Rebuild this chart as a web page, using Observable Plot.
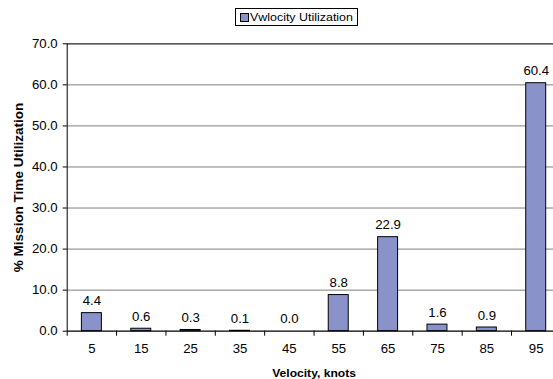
<!DOCTYPE html>
<html>
<head>
<meta charset="utf-8">
<script src="https://cdn.jsdelivr.net/npm/d3@7"></script>
<script src="https://cdn.jsdelivr.net/npm/@observablehq/plot@0.6"></script>
<style>
  html, body { margin: 0; padding: 0; background: #fff; }
  body { width: 553px; height: 379px; overflow: hidden; position: relative; font-family: "Liberation Sans", Arial, sans-serif; }
  #legend {
    position: absolute; left: 235px; top: 8px; width: 121px; height: 16px;
    border: 1px solid #000; background: #fff; box-sizing: content-box;
    font-size: 11px; line-height: 16px; white-space: nowrap; color: #000;
  }
  #legend .sw {
    position: absolute; left: 4px; top: 4px; width: 7px; height: 7px;
    border: 1px solid #000; background: #8a93c9;
  }
  #legend .lbl {
    position: absolute; left: 14px; top: 0; display: inline-block;
    transform: scaleX(1.13); transform-origin: left center;
  }
  #chart { position: absolute; left: 0; top: 0; }
</style>
</head>
<body>
<div id="chart"></div>
<div id="legend"><span class="sw"></span><span class="lbl">Vwlocity Utilization</span></div>
<script>
// Velocity bins (knots, bin centres) and share of mission time (%)
const velocities = [5, 15, 25, 35, 45, 55, 65, 75, 85, 95];
const utilization = [4.4, 0.6, 0.3, 0.1, 0.0, 8.8, 22.9, 1.6, 0.9, 60.4];
const binWidth = 10;
const yTicks = [0, 10, 20, 30, 40, 50, 60, 70];
const binEdges = [0, 10, 20, 30, 40, 50, 60, 70, 80, 90, 100];

const data = velocities.map((v, i) => ({velocity: v, value: utilization[i]}));

const barColor = "#8a93c9";
const font = "'Liberation Sans', Arial, sans-serif";

const chart = Plot.plot({
  width: 553,
  height: 379,
  marginTop: 43.3,
  marginBottom: 48.3,
  marginLeft: 66.7,
  marginRight: -7.4,
  style: {fontFamily: font, fontSize: "12px", color: "#000", background: "#fff", overflow: "visible"},
  x: {type: "linear", domain: [0, 100], range: [66.7, 560.4]},
  y: {domain: [0, 70], range: [330.7, 43.3]},
  marks: [
    // horizontal gridlines
    Plot.ruleY(yTicks.filter(t => t > 0 && t < 70), {stroke: "#7f7f7f", strokeWidth: 1}),
    Plot.ruleY([70], {stroke: "#222", strokeWidth: 1.3}),
    // bars, one per 10-knot bin
    Plot.rectY(data, {
      x1: d => d.velocity - binWidth / 2,
      x2: d => d.velocity + binWidth / 2,
      y1: 0,
      y2: "value",
      insetLeft: 14.7,
      insetRight: 14.7,
      fill: barColor,
      stroke: "#000",
      strokeWidth: 1
    }),
    // value labels above the bars
    Plot.text(data, {
      x: "velocity",
      y: "value",
      text: d => d.value.toFixed(1),
      dy: -8,
      lineAnchor: "bottom",
      fontSize: 12,
      fill: "#000"
    }),
    // axis lines
    Plot.ruleX([0], {y1: 0, y2: 70, stroke: "#000", strokeWidth: 1}),
    Plot.ruleY([0], {stroke: "#000", strokeWidth: 1.2}),
    // y axis ticks and labels
    Plot.axisY({
      ticks: yTicks,
      tickFormat: d => d.toFixed(1),
      tickSize: 4,
      tickPadding: 5.5,
      stroke: "#000",
      fontSize: 12,
      label: null
    }),
    // x axis: tick marks at bin edges, labels at bin centres
    Plot.axisX({
      ticks: binEdges,
      tickFormat: () => "",
      tickSize: 5,
      stroke: "#000",
      label: null
    }),
    Plot.axisX({
      ticks: velocities,
      tickFormat: d => String(d),
      tickSize: 0,
      tickPadding: 13.5,
      fontSize: 12,
      label: null
    }),
    // axis titles
    Plot.text(["Velocity, knots"], {
      frameAnchor: "bottom",
      dy: 45.3,
      text: d => d,
      fontWeight: "bold",
      fontSize: 11,
      lineAnchor: "bottom"
    }),
    Plot.text(["% Mission Time Utilization"], {
      frameAnchor: "left",
      textAnchor: "middle",
      dx: -48.5,
      rotate: -90,
      text: d => d,
      fontWeight: "bold",
      fontSize: 13.5
    })
  ]
});

document.getElementById("chart").appendChild(chart);

// Widen horizontal text a little, anchored at each label's own position
chart.querySelectorAll("text").forEach(t => {
  const tr = t.getAttribute("transform") || "";
  if (/rotate/.test(tr)) return;
  const x = +t.getAttribute("x") || 0;
  const y = +t.getAttribute("y") || 0;
  t.setAttribute("transform", `${tr} translate(${x},${y}) scale(1.1,1) translate(${-x},${-y})`);
});
</script>
</body>
</html>
